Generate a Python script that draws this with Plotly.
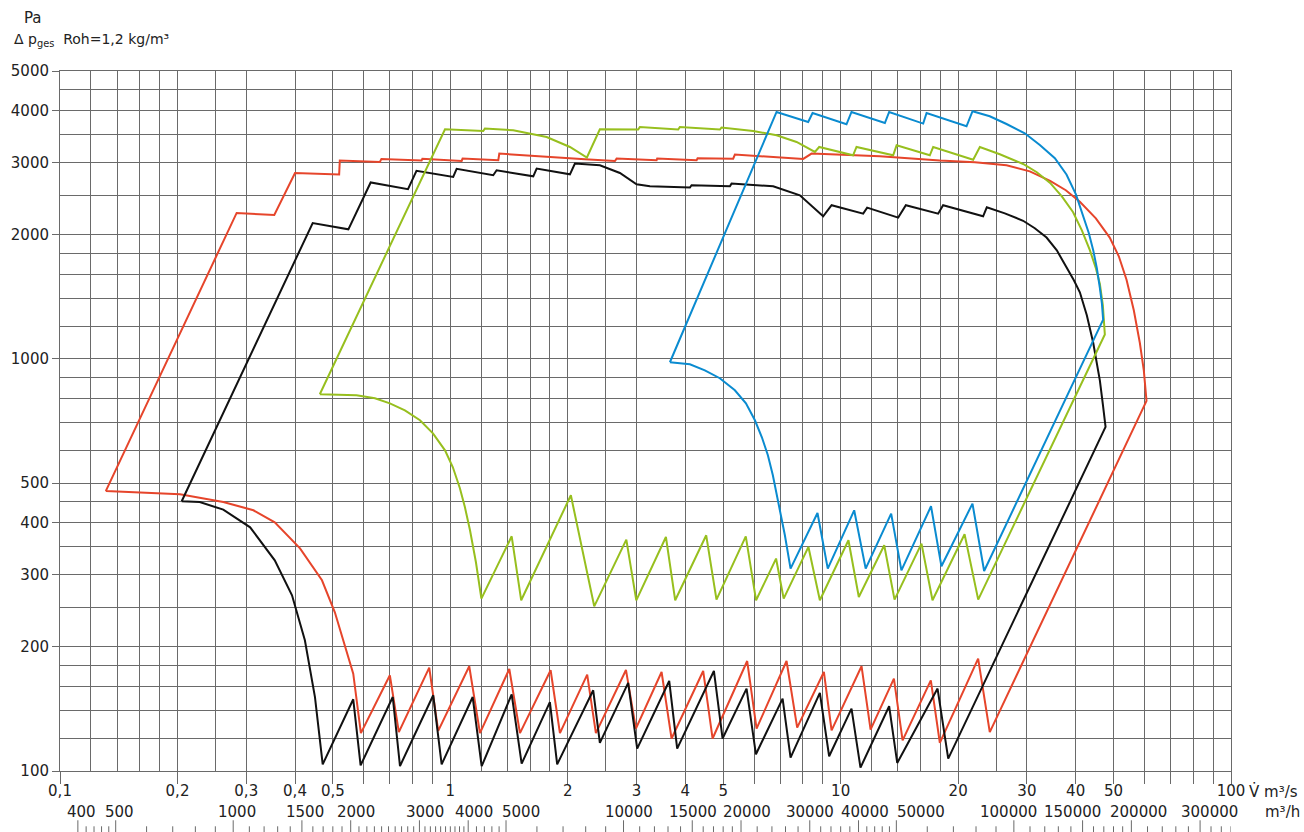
import math
import plotly.graph_objects as go

# ---------------- data (volume flow m3/s, total pressure Pa) ----------------
red_q = [0.131, 0.2835, 0.354, 0.400, 0.519, 0.521, 0.660, 0.666, 0.844, 0.848, 1.069, 1.075,
         1.327, 1.335, 2.212, 2.64, 2.667, 3.376, 3.388, 4.275, 4.30, 5.304, 5.358, 8.017, 8.424,
         12.6, 17.95, 22.07, 26.6, 30.52, 34.4, 37.74, 41.0, 45.06, 48.9, 51.59, 54.0, 56.36,
         58.4, 59.79, 60.75,
         24.1, 22.5, 17.95, 17.02, 14.41, 13.69, 11.93, 11.31, 9.478, 9.057, 7.738, 7.267,
         6.089, 5.761, 4.698, 4.444, 3.688, 3.477, 2.988, 2.818, 2.360, 2.242, 1.909, 1.807,
         1.508, 1.416, 1.191, 1.118, 0.931, 0.883, 0.738, 0.700, 0.590, 0.564,
         0.532, 0.506, 0.469, 0.412, 0.355, 0.313, 0.262, 0.203, 0.131]
red_dp = [478, 2262, 2236, 2828, 2803, 3031, 3008, 3059, 3031, 3062, 3024, 3065,
          3036, 3151, 3053, 3024, 3065, 3036, 3065, 3036, 3070, 3062, 3134, 3059, 3151,
          3105, 3031, 3002, 2954, 2854, 2707, 2568, 2407, 2195, 1971, 1775, 1558, 1313,
          1095, 938.8, 791,
          124.3, 187.4, 117.0, 166.0, 118.7, 167.6, 126.0, 179.6, 125.5, 173.9, 127.4, 184.9,
          126.7, 184.9, 119.9, 174.9, 119.9, 173.9, 126.7, 175.9, 123.6, 171.4, 123.6, 175.6,
          123.6, 176.8, 123.6, 179.6, 125.1, 178.2, 124.3, 170.7, 123.6, 172.3,
          207.6, 242.8, 290.3, 347.1, 401.4, 429.3, 449.7, 469.5, 478]

black_q = [0.205, 0.444, 0.548, 0.625, 0.779, 0.819, 1.017, 1.038, 1.288, 1.314, 1.631, 1.664,
           2.025, 2.085, 2.416, 2.719, 3.00, 3.246, 4.109, 4.15, 5.202, 5.254, 6.715, 7.862,
           9.02, 9.478, 11.42, 11.69, 14.04, 14.69, 17.77, 18.30, 23.17, 23.68, 26.34, 29.34,
           31.43, 33.69, 35.79, 37.89, 39.58, 41.0, 42.72, 44.36, 45.33, 46.14, 46.96, 47.71,
           18.86, 17.71, 13.96, 13.31, 11.24, 10.66, 9.343, 8.845, 7.441, 7.10, 6.066, 5.74,
           4.983, 4.734, 3.812, 3.637, 3.011, 2.855, 2.416, 2.323, 1.878, 1.799, 1.523, 1.436,
           1.203, 1.141, 0.950, 0.904, 0.743, 0.712, 0.589, 0.564, 0.471, 0.450,
           0.424, 0.393, 0.355, 0.307, 0.262, 0.228, 0.205]
black_dp = [451.5, 2138, 2064, 2682, 2582, 2863, 2765, 2895, 2792, 2871, 2776, 2898,
            2807, 2981, 2952, 2828, 2655, 2626, 2606, 2640, 2626, 2665, 2626, 2496,
            2220, 2361, 2253, 2330, 2204, 2361, 2253, 2361, 2220, 2334, 2257, 2165,
            2076, 1971, 1835, 1671, 1552, 1452, 1277, 1095, 982, 886, 776, 684,
            107.2, 158.5, 104.6, 143.6, 101.9, 141.7, 108.6, 154.7, 107.8, 149.9, 109.8, 158.5,
            119.9, 174.9, 113.3, 165.4, 113.3, 163.6, 117.0, 157.0, 103.8, 147.0, 104.2, 153.5,
            102.7, 151.2, 103.8, 152.7, 102.8, 151.2, 103.2, 149.3, 103.8, 151.2,
            207.6, 267.0, 324.6, 390.4, 430.9, 449.7, 451.5]

green_q = [0.463, 0.969, 1.214, 1.226, 1.449, 1.765, 2.025, 2.238, 2.416, 3.029, 3.059, 3.835,
           3.873, 4.903, 4.952, 5.968, 6.851, 7.709, 8.59, 8.81, 10.76, 10.98, 13.63, 13.91,
           16.92, 17.26, 21.85, 22.73, 25.57, 29.34, 31.81, 34.4, 36.87, 39.4, 41.49, 43.49,
           45.06, 46.14, 46.96, 47.51,
           22.51, 20.77, 17.19, 16.11, 13.74, 12.93, 11.13, 10.47, 8.845, 8.269, 7.145, 6.831,
           6.072, 5.714, 4.807, 4.524, 3.768, 3.567, 2.995, 2.824, 2.337, 2.036, 1.519, 1.436,
           1.201, 1.163, 1.123, 1.090, 1.058, 1.015, 0.969, 0.9025, 0.836, 0.765, 0.700, 0.641,
           0.575, 0.521, 0.463]
green_dp = [821, 3610, 3576, 3624, 3590, 3458, 3270, 3083, 3610, 3604, 3657, 3604,
            3657, 3604, 3645, 3576, 3491, 3363, 3180, 3270, 3122, 3270, 3122, 3301,
            3122, 3270, 3045, 3269, 3139, 2974, 2840, 2676, 2482, 2271, 2053, 1837,
            1660, 1522, 1350, 1147,
            260.6, 375.4, 259.6, 356.4, 260.6, 353.1, 264.5, 363.1, 259.6, 349.8, 262.1, 327.8,
            259.6, 371.2, 260.6, 373.3, 259.6, 369.8, 259.6, 364.5, 251.0, 466.9, 259.6, 371.2,
            262.1, 321.1, 383.9, 436.5, 485.5, 545.9, 600.2, 660.0, 709.9, 750.7, 780.4, 802.9,
            816.3, 818.8, 821]

blue_q = [3.652, 6.851, 8.256, 8.472, 10.35, 10.66, 12.98, 13.31, 16.27, 16.60, 21.01, 21.77,
          24.1, 26.6, 29.63, 32.38, 35.38, 37.89, 40.06, 41.82, 43.24, 44.36, 45.33, 46.14,
          46.69, 47.04,
          23.31, 21.76, 18.12, 17.04, 14.31, 13.47, 11.59, 10.83, 9.267, 8.722, 7.441,
          7.196, 6.904, 6.703, 6.509, 6.283, 6.03, 5.719, 5.358, 4.903, 4.488, 4.109, 3.652]
blue_dp = [982, 3977, 3760, 3955, 3712, 3977, 3739, 3977, 3727, 3955, 3671, 3993,
           3882, 3718, 3530, 3306, 3070, 2804, 2510, 2216, 2019, 1837, 1660, 1486,
           1365, 1246,
           305.8, 445.7, 313.9, 439.1, 306.9, 421.5, 309.9, 429.3, 309.9, 422.9, 309.9,
           373.3, 454.0, 522.1, 583.8, 645.6, 709.9, 780.4, 839.5, 898, 938.8, 970.8, 982]

# ---------------- axis values / labels ----------------
x_major = [0.1, 0.2, 0.3, 0.4, 0.5, 0.6, 0.7, 0.8, 0.9,
           1, 2, 3, 4, 5, 6, 7, 8, 9,
           10, 20, 30, 40, 50, 60, 70, 80, 90, 100]
x_major_text = ["0,1", "0,2", "0,3", "0,4", "0,5", "", "", "", "",
                "1", "2", "3", "4", "5", "", "", "", "",
                "10", "20", "30", "40", "50", "", "", "", "", "100"]
x_minor = [0.12, 0.14, 0.16, 0.18, 0.25, 1.2, 1.4, 1.6, 1.8, 2.5, 12, 14, 16, 18, 25]
y_major = [100, 200, 300, 400, 500, 1000, 2000, 3000, 4000, 5000]
y_major_text = ["100", "200", "300", "400", "500", "1000", "2000", "3000", "4000", "5000"]
y_minor = [120, 140, 160, 180, 250, 350, 450, 600, 700, 800, 900,
           1200, 1400, 1600, 1800, 2500, 3500, 4500]

mh_labels = [400, 500, 1000, 1500, 2000, 3000, 4000, 5000, 10000, 15000, 20000,
             30000, 40000, 50000, 100000, 150000, 200000, 300000]
mh_label_shift = [4, 4, 4, 3, 5, 6, 6, 15, 5, 1, 6, 0, 6, 25, -5, -10, 7, 9]
mh_minor = ([420, 440, 460, 480] + list(range(600, 1000, 100)) + list(range(1100, 1500, 100))
            + list(range(1600, 2000, 100)) + list(range(2100, 3000, 100))
            + list(range(3100, 4000, 100)) + list(range(4200, 5000, 200))
            + list(range(6000, 10000, 1000)) + list(range(11000, 15000, 1000))
            + list(range(16000, 20000, 1000)) + list(range(22000, 30000, 2000))
            + list(range(32000, 40000, 2000)) + list(range(42000, 50000, 2000))
            + list(range(60000, 100000, 10000)) + list(range(110000, 150000, 10000))
            + list(range(160000, 200000, 10000)) + list(range(220000, 300000, 20000))
            + list(range(320000, 400001, 20000)))

FONT = "DejaVu Sans"
TXT = "#222222"
GRID = "#6a6a6a"

fig = go.Figure()
for q, dp, col in [(red_q, red_dp, "#e6452b"), (black_q, black_dp, "#111111"),
                   (green_q, green_dp, "#97bf1e"), (blue_q, blue_dp, "#0a8bd0")]:
    fig.add_trace(go.Scatter(x=q, y=dp, mode="lines", line=dict(color=col, width=2),
                             hoverinfo="skip", showlegend=False))

fig.update_xaxes(type="log", range=[-1, 2], tickmode="array", tickvals=x_major,
                 ticktext=x_major_text, ticks="outside", ticklen=12, tickwidth=1,
                 tickcolor=GRID, showgrid=True, gridcolor=GRID, gridwidth=1,
                 ticklabelstandoff=-6,
                 minor=dict(tickmode="array", tickvals=x_minor, showgrid=True,
                            gridcolor=GRID, gridwidth=1, ticks=""),
                 showline=True, linecolor=GRID, linewidth=1, mirror=True, zeroline=False,
                 tickfont=dict(family=FONT, size=15, color=TXT))
fig.update_yaxes(type="log", range=[2, math.log10(5000)], tickmode="array", tickvals=y_major,
                 ticktext=y_major_text, ticks="outside", ticklen=7, tickwidth=1,
                 tickcolor=GRID, showgrid=True, gridcolor=GRID, gridwidth=1,
                 minor=dict(tickmode="array", tickvals=y_minor, showgrid=True,
                            gridcolor=GRID, gridwidth=1, ticks=""),
                 showline=True, linecolor=GRID, linewidth=1, mirror=True, zeroline=False,
                 tickfont=dict(family=FONT, size=15, color=TXT))

annotations = []
for v, sh in zip(mh_labels, mh_label_shift):
    annotations.append(dict(x=math.log10(v / 3600.0), xref="x", y=-0.059, yref="paper",
                            text=str(v), showarrow=False, xanchor="center", yanchor="middle",
                            xshift=sh, font=dict(family=FONT, size=15, color=TXT)))
annotations += [
    dict(x=1.0135, xref="paper", y=-0.029, yref="paper", text="V\u0307 m³/s", showarrow=False,
         xanchor="left", yanchor="middle", font=dict(family=FONT, size=15, color=TXT)),
    dict(x=1.027, xref="paper", y=-0.059, yref="paper", text="m³/h", showarrow=False,
         xanchor="left", yanchor="middle", font=dict(family=FONT, size=15, color=TXT)),
    dict(x=-0.023, xref="paper", y=1.0753, yref="paper", text="Pa", showarrow=False,
         xanchor="center", yanchor="middle", font=dict(family=FONT, size=15, color=TXT)),
    dict(x=-0.041, xref="paper", y=1.0439, yref="paper",
         text="Δ p<sub>ges</sub>  Roh=1,2 kg/m³", showarrow=False,
         xanchor="left", yanchor="middle", font=dict(family=FONT, size=14, color=TXT)),
]

shapes = []
for v in mh_labels + [400000]:
    xv = v / 3600.0
    shapes.append(dict(type="line", xref="x", yref="paper", x0=xv, x1=xv, y0=-0.0704, y1=-0.0876,
                       line=dict(color=GRID, width=1)))
for v in mh_minor:
    xv = v / 3600.0
    shapes.append(dict(type="line", xref="x", yref="paper", x0=xv, x1=xv, y0=-0.079, y1=-0.0876,
                       line=dict(color=GRID, width=1)))

fig.update_layout(width=1304, height=832, margin=dict(l=60, r=72.8, t=70.7, b=61.3),
                  plot_bgcolor="white", paper_bgcolor="white",
                  annotations=annotations, shapes=shapes)

fig.write_html("out.html", config={"displayModeBar": False},
               post_script="document.body.style.margin='0';document.body.style.overflow='hidden';")
